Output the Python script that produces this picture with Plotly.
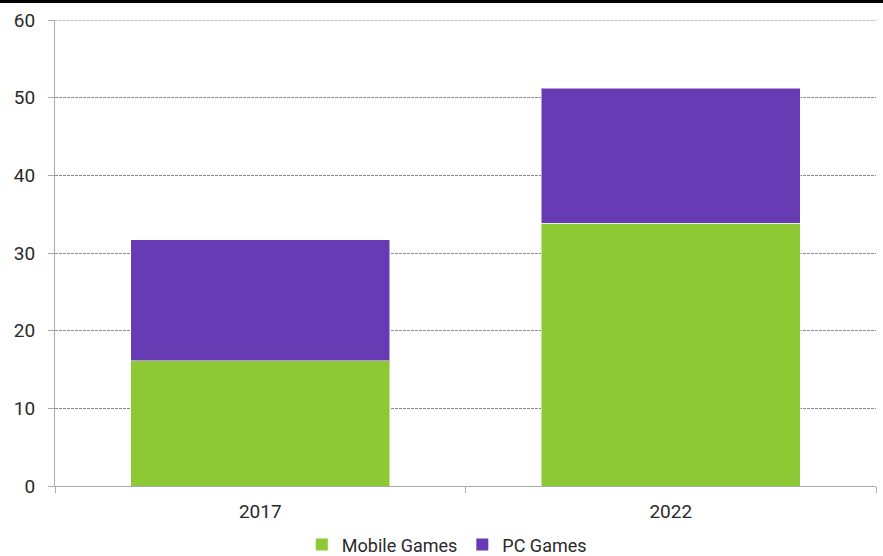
import plotly.graph_objects as go

categories = ["2017", "2022"]
mobile_games = [16.1, 33.8]
pc_games = [15.6, 17.4]
y_ticks = [0, 10, 20, 30, 40, 50, 60]
series_names = ["Mobile Games", "PC Games"]

GREEN = "#8CC934"
PURPLE = "#673BB3"
FONT = "Roboto"
TXT = "#2a2a2a"

fig = go.Figure()
for name, vals, col in [(series_names[0], mobile_games, GREEN), (series_names[1], pc_games, PURPLE)]:
    fig.add_trace(go.Bar(name=name, x=categories, y=vals, showlegend=False,
                         marker=dict(color=col, line=dict(color="rgba(255,255,255,0.5)", width=1))))
for name, col in [(series_names[0], GREEN), (series_names[1], PURPLE)]:
    fig.add_trace(go.Scatter(name=name, x=[None], y=[None], mode="markers",
                             marker=dict(symbol="square", size=12, color=col), showlegend=True))

fig.update_layout(
    barmode="stack",
    bargap=0.37,
    width=883, height=556,
    margin=dict(l=55, r=7, t=20, b=70, autoexpand=False),
    paper_bgcolor="white", plot_bgcolor="white",
    font=dict(family=FONT, size=18, color=TXT),
    showlegend=True,
    legend=dict(orientation="h", xref="container", x=0.506, xanchor="center",
                yref="container", y=0.02, yanchor="middle",
                font=dict(size=18, color=TXT), itemwidth=30,
                traceorder="normal", tracegroupgap=0),
    xaxis=dict(showline=True, linecolor="#AAAAAA", linewidth=1, automargin=False,
               ticks="outside", tickson="boundaries", ticklen=6, tickcolor="#AAAAAA",
               showgrid=False, tickfont=dict(size=19, color=TXT), ticklabelstandoff=8),
    yaxis=dict(range=[0, 60], tickvals=y_ticks, showline=True, linecolor="#AAAAAA",
               linewidth=1, ticks="outside", ticklen=6, tickcolor="#AAAAAA", automargin=False,
               showgrid=True, gridcolor="#8a8a8a", gridwidth=1, griddash="3px,1px",
               zeroline=False, tickfont=dict(size=19, color=TXT), ticklabelstandoff=9),
    shapes=[
        dict(type="rect", xref="paper", yref="paper",
             x0=-55/821, x1=1 + 7/821, y0=1 + 17/466, y1=1 + 21/466,
             fillcolor="black", line=dict(width=0)),
        dict(type="line", xref="paper", yref="y", x0=0, x1=1, y0=60, y1=60,
             line=dict(color="#8a8a8a", width=1, dash="3px,1px"), layer="below"),
    ],
)

fig.write_html("out.html")
